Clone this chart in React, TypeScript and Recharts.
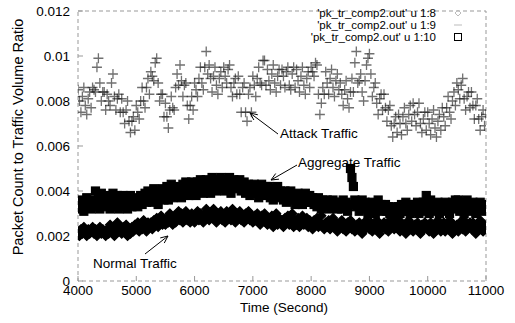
import { ReferenceArea, Scatter, ScatterChart, XAxis, YAxis } from 'recharts'

// samples every 25 s from 4000 s to 11000 s
const START_TIME = 4000
const TIME_STEP = 25

// 'pk_tr_comp2.out' u 1:8 (normal traffic)
const normalRatio = [
  0.0022, 0.0020, 0.0023, 0.0021, 0.0024, 0.0022, 0.0020, 0.0023, 0.0021, 0.0022,
  0.0024, 0.0021, 0.0023, 0.0020, 0.0022, 0.0024, 0.0021, 0.0023, 0.0022, 0.0020,
  0.0023, 0.0021, 0.0025, 0.0022, 0.0024, 0.0020, 0.0023, 0.0026, 0.0022, 0.0024,
  0.0021, 0.0024, 0.0022, 0.0025, 0.0020, 0.0023, 0.0021, 0.0024, 0.0022, 0.0025,
  0.0023, 0.0026, 0.0022, 0.0025, 0.0023, 0.0027, 0.0024, 0.0022, 0.0026, 0.0024,
  0.0026, 0.0023, 0.0027, 0.0025, 0.0028, 0.0024, 0.0026, 0.0029, 0.0025, 0.0027,
  0.0025, 0.0028, 0.0026, 0.0030, 0.0027, 0.0025, 0.0029, 0.0026, 0.0028, 0.0031,
  0.0027, 0.0030, 0.0026, 0.0029, 0.0031, 0.0027, 0.0029, 0.0026, 0.0030, 0.0028,
  0.0026, 0.0029, 0.0031, 0.0027, 0.0030, 0.0028, 0.0026, 0.0030, 0.0032, 0.0028,
  0.0027, 0.0030, 0.0028, 0.0032, 0.0029, 0.0026, 0.0030, 0.0028, 0.0031, 0.0027,
  0.0029, 0.0026, 0.0031, 0.0028, 0.0030, 0.0027, 0.0032, 0.0029, 0.0026, 0.0030,
  0.0028, 0.0031, 0.0027, 0.0029, 0.0026, 0.0030, 0.0028, 0.0031, 0.0027, 0.0029,
  0.0026, 0.0029, 0.0027, 0.0030, 0.0028, 0.0025, 0.0029, 0.0027, 0.0030, 0.0026,
  0.0025, 0.0028, 0.0026, 0.0029, 0.0024, 0.0027, 0.0030, 0.0025, 0.0028, 0.0026,
  0.0027, 0.0024, 0.0028, 0.0026, 0.0029, 0.0025, 0.0027, 0.0030, 0.0024, 0.0027,
  0.0025, 0.0028, 0.0024, 0.0027, 0.0029, 0.0025, 0.0026, 0.0028, 0.0024, 0.0027,
  0.0026, 0.0023, 0.0027, 0.0025, 0.0028, 0.0024, 0.0026, 0.0029, 0.0025, 0.0023,
  0.0026, 0.0024, 0.0027, 0.0023, 0.0025, 0.0028, 0.0024, 0.0026, 0.0022, 0.0025,
  0.0024, 0.0027, 0.0023, 0.0025, 0.0022, 0.0026, 0.0024, 0.0027, 0.0023, 0.0025,
  0.0022, 0.0025, 0.0023, 0.0026, 0.0024, 0.0021, 0.0025, 0.0023, 0.0027, 0.0024,
  0.0023, 0.0026, 0.0022, 0.0025, 0.0024, 0.0027, 0.0023, 0.0021, 0.0025, 0.0024,
  0.0026, 0.0023, 0.0025, 0.0022, 0.0027, 0.0024, 0.0026, 0.0023, 0.0025, 0.0028,
  0.0024, 0.0022, 0.0026, 0.0023, 0.0025, 0.0021, 0.0024, 0.0027, 0.0023, 0.0025,
  0.0022, 0.0025, 0.0023, 0.0026, 0.0024, 0.0021, 0.0025, 0.0023, 0.0026, 0.0024,
  0.0025, 0.0022, 0.0026, 0.0024, 0.0021, 0.0025, 0.0023, 0.0027, 0.0024, 0.0022,
  0.0024, 0.0026, 0.0022, 0.0025, 0.0023, 0.0027, 0.0024, 0.0021, 0.0025, 0.0023,
  0.0025, 0.0022, 0.0026, 0.0024, 0.0023, 0.0027, 0.0022, 0.0025, 0.0024, 0.0026,
  0.0023, 0.0026, 0.0024, 0.0021, 0.0025, 0.0023, 0.0027, 0.0024, 0.0022, 0.0025,
  0.0024,
]

// 'pk_tr_comp2.out' u 1:9 (attack traffic)
const attackRatio = [
  0.0085, 0.0080, 0.0075, 0.0082, 0.0086, 0.0078, 0.0074, 0.0081, 0.0084, 0.0077,
  0.0086, 0.0085, 0.0084, 0.0095, 0.0099, 0.0088, 0.0080, 0.0084, 0.0084, 0.0076,
  0.0083, 0.0080, 0.0078, 0.0088, 0.0092, 0.0082, 0.0076, 0.0081, 0.0083, 0.0075,
  0.0081, 0.0075, 0.0070, 0.0076, 0.0080, 0.0071, 0.0066, 0.0071, 0.0073, 0.0067,
  0.0078, 0.0075, 0.0072, 0.0080, 0.0086, 0.0080, 0.0077, 0.0086, 0.0090, 0.0083,
  0.0093, 0.0091, 0.0089, 0.0097, 0.0099, 0.0088, 0.0080, 0.0083, 0.0083, 0.0073,
  0.0079, 0.0073, 0.0068, 0.0076, 0.0082, 0.0077, 0.0076, 0.0086, 0.0092, 0.0087,
  0.0096, 0.0089, 0.0082, 0.0087, 0.0088, 0.0078, 0.0072, 0.0078, 0.0082, 0.0076,
  0.0088, 0.0085, 0.0082, 0.0090, 0.0095, 0.0088, 0.0085, 0.0095, 0.0102, 0.0092,
  0.0096, 0.0090, 0.0084, 0.0091, 0.0095, 0.0087, 0.0083, 0.0090, 0.0093, 0.0086,
  0.0095, 0.0091, 0.0088, 0.0094, 0.0096, 0.0086, 0.0082, 0.0088, 0.0090, 0.0083,
  0.0091, 0.0083, 0.0075, 0.0086, 0.0088, 0.0075, 0.0071, 0.0083, 0.0086, 0.0075,
  0.0091, 0.0087, 0.0082, 0.0090, 0.0095, 0.0088, 0.0087, 0.0098, 0.0098, 0.0087,
  0.0094, 0.0089, 0.0085, 0.0092, 0.0096, 0.0088, 0.0084, 0.0091, 0.0094, 0.0087,
  0.0094, 0.0091, 0.0086, 0.0093, 0.0095, 0.0087, 0.0085, 0.0092, 0.0095, 0.0086,
  0.0094, 0.0089, 0.0084, 0.0091, 0.0095, 0.0087, 0.0083, 0.0090, 0.0093, 0.0086,
  0.0095, 0.0093, 0.0091, 0.0097, 0.0096, 0.0083, 0.0074, 0.0079, 0.0086, 0.0083,
  0.0093, 0.0088, 0.0083, 0.0090, 0.0094, 0.0086, 0.0082, 0.0089, 0.0092, 0.0085,
  0.0088, 0.0083, 0.0078, 0.0085, 0.0089, 0.0081, 0.0077, 0.0084, 0.0090, 0.0084,
  0.0097, 0.0102, 0.0088, 0.0089, 0.0092, 0.0084, 0.0080, 0.0089, 0.0096, 0.0099,
  0.0101, 0.0092, 0.0082, 0.0086, 0.0088, 0.0079, 0.0074, 0.0081, 0.0083, 0.0076,
  0.0083, 0.0077, 0.0071, 0.0076, 0.0078, 0.0069, 0.0064, 0.0070, 0.0073, 0.0066,
  0.0074, 0.0070, 0.0065, 0.0073, 0.0077, 0.0070, 0.0067, 0.0074, 0.0078, 0.0071,
  0.0079, 0.0074, 0.0069, 0.0075, 0.0079, 0.0070, 0.0066, 0.0072, 0.0075, 0.0067,
  0.0075, 0.0070, 0.0065, 0.0072, 0.0076, 0.0068, 0.0064, 0.0071, 0.0074, 0.0067,
  0.0077, 0.0073, 0.0069, 0.0077, 0.0082, 0.0075, 0.0072, 0.0080, 0.0084, 0.0078,
  0.0088, 0.0085, 0.0081, 0.0087, 0.0090, 0.0081, 0.0076, 0.0082, 0.0084, 0.0077,
  0.0084, 0.0078, 0.0072, 0.0078, 0.0081, 0.0072, 0.0067, 0.0073, 0.0076, 0.0069,
  0.0074,
]

// 'pk_tr_comp2.out' u 1:10 (aggregate traffic)
const aggregateRatio = [
  0.0033, 0.0036, 0.0032, 0.0035, 0.0031, 0.0034, 0.0037, 0.0033, 0.0035, 0.0032,
  0.0036, 0.0033, 0.0040, 0.0034, 0.0038, 0.0032, 0.0039, 0.0035, 0.0033, 0.0037,
  0.0034, 0.0038, 0.0032, 0.0036, 0.0039, 0.0033, 0.0035, 0.0038, 0.0032, 0.0036,
  0.0034, 0.0038, 0.0033, 0.0036, 0.0032, 0.0035, 0.0038, 0.0033, 0.0036, 0.0034,
  0.0037, 0.0033, 0.0035, 0.0038, 0.0034, 0.0036, 0.0039, 0.0035, 0.0040, 0.0036,
  0.0038, 0.0035, 0.0041, 0.0036, 0.0039, 0.0034, 0.0040, 0.0037, 0.0041, 0.0036,
  0.0039, 0.0042, 0.0036, 0.0040, 0.0043, 0.0037, 0.0041, 0.0038, 0.0042, 0.0039,
  0.0041, 0.0037, 0.0043, 0.0039, 0.0044, 0.0040, 0.0038, 0.0042, 0.0044, 0.0039,
  0.0042, 0.0038, 0.0044, 0.0040, 0.0045, 0.0041, 0.0039, 0.0043, 0.0045, 0.0040,
  0.0043, 0.0039, 0.0046, 0.0041, 0.0044, 0.0040, 0.0045, 0.0042, 0.0046, 0.0041,
  0.0044, 0.0040, 0.0045, 0.0042, 0.0046, 0.0039, 0.0043, 0.0045, 0.0041, 0.0044,
  0.0042, 0.0045, 0.0040, 0.0043, 0.0044, 0.0039, 0.0042, 0.0043, 0.0038, 0.0041,
  0.0040, 0.0043, 0.0039, 0.0042, 0.0037, 0.0041, 0.0043, 0.0038, 0.0040, 0.0042,
  0.0039, 0.0042, 0.0037, 0.0040, 0.0036, 0.0041, 0.0038, 0.0042, 0.0037, 0.0040,
  0.0038, 0.0036, 0.0040, 0.0035, 0.0039, 0.0037, 0.0040, 0.0036, 0.0038, 0.0034,
  0.0037, 0.0039, 0.0035, 0.0038, 0.0034, 0.0037, 0.0039, 0.0035, 0.0036, 0.0038,
  0.0035, 0.0037, 0.0034, 0.0036, 0.0033, 0.0037, 0.0035, 0.0032, 0.0036, 0.0034,
  0.0033, 0.0036, 0.0034, 0.0032, 0.0035, 0.0036, 0.0033, 0.0035, 0.0032, 0.0034,
  0.0035, 0.0032, 0.0036, 0.0033, 0.0035, 0.0031, 0.0034, 0.0050, 0.0046, 0.0042,
  0.0036, 0.0033, 0.0035, 0.0031, 0.0034, 0.0036, 0.0032, 0.0035, 0.0033, 0.0030,
  0.0034, 0.0031, 0.0035, 0.0033, 0.0030, 0.0034, 0.0036, 0.0032, 0.0034, 0.0031,
  0.0032, 0.0034, 0.0031, 0.0033, 0.0030, 0.0032, 0.0033, 0.0031, 0.0029, 0.0032,
  0.0033, 0.0030, 0.0034, 0.0031, 0.0033, 0.0035, 0.0031, 0.0034, 0.0030, 0.0033,
  0.0034, 0.0031, 0.0033, 0.0035, 0.0030, 0.0034, 0.0032, 0.0035, 0.0031, 0.0038,
  0.0033, 0.0030, 0.0036, 0.0032, 0.0034, 0.0031, 0.0033, 0.0035, 0.0030, 0.0033,
  0.0034, 0.0031, 0.0035, 0.0032, 0.0034, 0.0030, 0.0033, 0.0035, 0.0032, 0.0036,
  0.0033, 0.0036, 0.0031, 0.0035, 0.0033, 0.0030, 0.0034, 0.0036, 0.0032, 0.0034,
  0.0031, 0.0035, 0.0033, 0.0030, 0.0034, 0.0032, 0.0035, 0.0031, 0.0034, 0.0033,
  0.0032,
]

const X_TICKS = [4000, 5000, 6000, 7000, 8000, 9000, 10000, 11000]
const Y_TICKS = [0, 0.002, 0.004, 0.006, 0.008, 0.01, 0.012]
const SERIES_NAMES = ["'pk_tr_comp2.out' u 1:8", "'pk_tr_comp2.out' u 1:9", "'pk_tr_comp2.out' u 1:10"]

const FONT = '"Liberation Sans", Arial, Helvetica, sans-serif'

function toPoints(values: number[]) {
  return values.map((ratio, index) => ({ time: START_TIME + index * TIME_STEP, ratio }))
}

const normalPoints = toPoints(normalRatio)
const attackPoints = toPoints(attackRatio)
const aggregatePoints = toPoints(aggregateRatio)

// scanned markers are so dense that the bands print solid black
function DiamondMark({ cx, cy }: any) {
  const r = 4.5
  return (
    <path d={`M${cx},${cy - r}L${cx + r},${cy}L${cx},${cy + r}L${cx - r},${cy}Z`} fill="#000" stroke="#000" strokeWidth={1.2} />
  )
}

function PlusMark({ cx, cy }: any) {
  const r = 5
  return (
    <path d={`M${cx - r},${cy}H${cx + r}M${cx},${cy - r}V${cy + r}`} stroke="#111" strokeOpacity={0.6} strokeWidth={1.3} fill="none" />
  )
}

function SquareMark({ cx, cy }: any) {
  const r = 4
  return <rect x={cx - r} y={cy - r} width={r * 2} height={r * 2} fill="#000" stroke="#000" strokeWidth={1.2} />
}

function Arrow({ from, to }: { from: [number, number]; to: [number, number] }) {
  const angle = Math.atan2(to[1] - from[1], to[0] - from[0])
  const head = 8
  const spread = 0.42
  const a = [to[0] - head * Math.cos(angle - spread), to[1] - head * Math.sin(angle - spread)]
  const b = [to[0] - head * Math.cos(angle + spread), to[1] - head * Math.sin(angle + spread)]
  return (
    <g stroke="#000" strokeWidth={1} fill="none">
      <line x1={from[0]} y1={from[1]} x2={to[0]} y2={to[1]} />
      <polyline points={`${a[0]},${a[1]} ${to[0]},${to[1]} ${b[0]},${b[1]}`} />
    </g>
  )
}

function Overlay() {
  return (
    <svg width={515} height={323} style={{ position: 'absolute', left: 0, top: 0, pointerEvents: 'none' }}>
      <g fontFamily={FONT} fill="#000">
        <text x={23} y={137} fontSize={14.5} textAnchor="middle" transform="rotate(-90 23 137)">
          Packet Count to Traffic Volume Ratio
        </text>
        <text x={284} y={312} fontSize={13.5} textAnchor="middle">Time (Second)</text>

        {SERIES_NAMES.map((name, i) => (
          <text key={name} x={436} y={17 + i * 12} fontSize={11.5} textAnchor="end">{name}</text>
        ))}

        <text x={280} y={138} fontSize={13.5}>Attack Traffic</text>
        <text x={298} y={167} fontSize={13.5}>Aggregate Traffic</text>
        <text x={93} y={268} fontSize={13.5}>Normal Traffic</text>
      </g>

      <path d="M458,10L461,13L458,16L455,13Z" fill="none" stroke="#bbb" strokeWidth={1} />
      <path d="M454,25H462" stroke="#bbb" strokeWidth={1} />
      <rect x={454.5} y={33.5} width={7} height={7} fill="none" stroke="#000" strokeWidth={1} />

      <Arrow from={[278, 134]} to={[250, 113]} />
      <Arrow from={[297, 165]} to={[271, 180]} />
      <Arrow from={[145, 254]} to={[168, 236]} />
    </svg>
  )
}

export default function App() {
  const tickStyle = { fontSize: 13.5, fill: '#000', fontFamily: FONT }
  return (
    <div style={{ position: 'absolute', left: 0, top: 0, width: 515, height: 323, background: '#fff' }}>
      <ScatterChart width={515} height={323} margin={{ top: 11, right: 29, bottom: 0, left: 0 }}>
        <XAxis
          dataKey="time"
          type="number"
          domain={[4000, 11000]}
          ticks={X_TICKS}
          interval={0}
          allowDataOverflow
          axisLine={false}
          tickLine={{ stroke: '#999' }}
          tickSize={-5}
          tickMargin={9}
          tick={tickStyle}
          height={42}
        />
        <YAxis
          dataKey="ratio"
          type="number"
          domain={[0, 0.012]}
          ticks={Y_TICKS}
          interval={0}
          allowDataOverflow
          axisLine={false}
          tickLine={{ stroke: '#999' }}
          tickSize={-5}
          tickMargin={13}
          tick={tickStyle}
          width={78}
        />
        <ReferenceArea x1={4000} x2={11000} y1={0} y2={0.012} fill="none" stroke="#999" strokeDasharray="4 3" />
        <Scatter data={normalPoints} shape={DiamondMark} isAnimationActive={false} />
        <Scatter data={attackPoints} shape={PlusMark} isAnimationActive={false} />
        <Scatter data={aggregatePoints} shape={SquareMark} isAnimationActive={false} />
      </ScatterChart>
      <Overlay />
    </div>
  )
}
